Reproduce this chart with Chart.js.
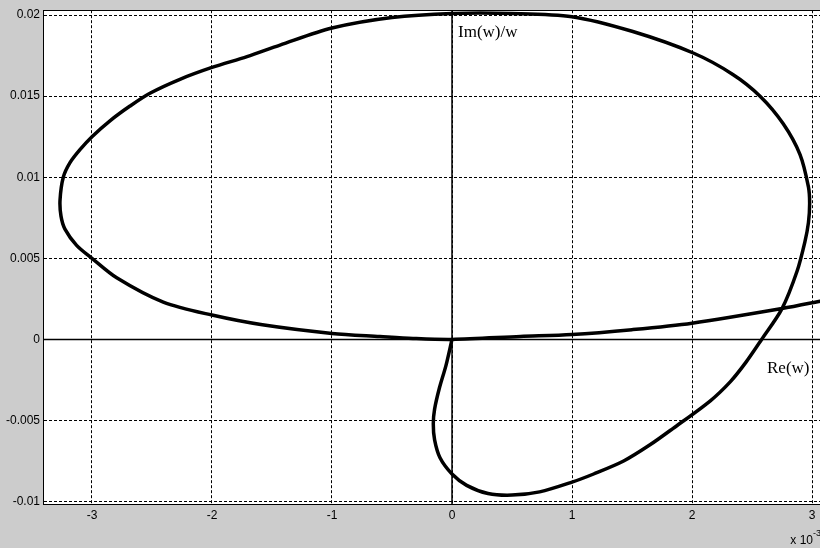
<!DOCTYPE html>
<html>
<head>
<meta charset="utf-8">
<script src="https://cdn.jsdelivr.net/npm/chart.js@4/dist/chart.umd.min.js"></script>
<style>
  html, body { margin: 0; padding: 0; background: #cccccc; overflow: hidden; }
  canvas { display: block; }
</style>
</head>
<body>
<canvas id="nyquist" width="828" height="548"></canvas>
<script>
// Curve points, x in units of 1e-3 (see "x 10^-3" under the axis)
const curveX = [
  0, -0.05, -0.105, -0.145, -0.156, -0.145, -0.1, 0, 0.122, 0.3, 0.5, 0.73,
  1.0, 1.18, 1.43, 1.65, 1.84, 2.15, 2.32, 2.45, 2.58, 2.75, 2.875, 2.94, 2.97, 2.98,
  2.97, 2.9, 2.76, 2.567, 2.34, 2.01, 1.5, 1.0, 0.5, 0, -0.5,
  -1.0, -1.433, -1.708, -2.0, -2.267, -2.517, -2.683, -2.85, -3.0, -3.1, -3.183, -3.239,
  -3.266, -3.258, -3.225, -3.128, -3.0, -2.794, -2.406, -2.0, -1.58, -1.0, -0.6, -0.325, 0,
  0.57, 1.0, 1.5, 2.0, 2.75, 3.1
];
const curveY = [
  0, -0.0016, -0.0030, -0.0043, -0.0052, -0.0062, -0.0073, -0.0083, -0.0090, -0.0095, -0.0096, -0.0094,
  -0.0088, -0.0083, -0.0075, -0.0065, -0.0055, -0.0038, -0.0026, -0.0014, 0, 0.0019, 0.0042, 0.0060, 0.0072, 0.0084,
  0.0094, 0.0114, 0.0133, 0.0150, 0.01634, 0.01766, 0.0190, 0.0199, 0.0201, 0.0201, 0.01985,
  0.0192, 0.01815, 0.01744, 0.01677, 0.01604, 0.01518, 0.01439, 0.01348, 0.0125, 0.0117, 0.0109, 0.0100,
  0.0086, 0.0076, 0.0068, 0.0058, 0.0050, 0.0038, 0.0023, 0.0015, 0.0009, 0.00037, 0.00018, 0.00006, 0,
  0.00018, 0.0003, 0.0006, 0.001, 0.0019, 0.0024
];

const xTicks = [-3, -2, -1, 0, 1, 2, 3];
const yTicks = [-0.01, -0.005, 0, 0.005, 0.01, 0.015, 0.02];
const yTickLabels = ['-0.01', '-0.005', '0', '0.005', '0.01', '0.015', '0.02'];

const xMin = -3.408, xMax = 3.108;
const yMin = -0.01015, yMax = 0.0203;

// text labels placed in data coordinates
const imLabel = { text: 'Im(w)/w', x: 0.05, y: 0.01866 };
const reLabel = { text: 'Re(w)', x: 2.625, y: -0.00207 };

const curve = curveX.map((x, i) => ({ x: x, y: curveY[i] }));

const plotFrame = {
  id: 'plotFrame',
  beforeDraw(chart) {
    const { ctx, chartArea: a } = chart;
    ctx.save();
    ctx.fillStyle = '#ffffff';
    ctx.fillRect(a.left, a.top, a.right - a.left, a.bottom - a.top);
    ctx.restore();
  },
  afterDraw(chart) {
    const { ctx, chartArea: a, scales } = chart;
    ctx.save();
    ctx.strokeStyle = '#000';
    ctx.lineWidth = 1;
    ctx.strokeRect(Math.round(a.left) + 0.5, Math.round(a.top) + 0.5,
      Math.round(a.right - a.left), Math.round(a.bottom - a.top));

    // Im / Re labels
    ctx.fillStyle = '#000';
    ctx.font = '17px "Liberation Serif", "Times New Roman", serif';
    ctx.textBaseline = 'alphabetic';
    ctx.textAlign = 'left';
    [imLabel, reLabel].forEach(l => {
      ctx.fillText(l.text, scales.x.getPixelForValue(l.x), scales.y.getPixelForValue(l.y));
    });

    // exponent note under the x axis
    ctx.font = '12px "Liberation Sans", Arial, sans-serif';
    ctx.textAlign = 'right';
    ctx.fillText('x 10', a.right - 12, 544);
    ctx.font = '9px "Liberation Sans", Arial, sans-serif';
    ctx.textAlign = 'left';
    ctx.fillText('-3', a.right - 12, 536);
    ctx.restore();
  }
};

const tickFont = { family: '"Liberation Sans", Arial, sans-serif', size: 12 };

new Chart(document.getElementById('nyquist'), {
  type: 'scatter',
  data: {
    datasets: [
      {
        data: [{ x: xMin, y: 0 }, { x: xMax, y: 0 }],
        showLine: true, borderColor: '#000', borderWidth: 1.5, pointRadius: 0, tension: 0
      },
      {
        data: [{ x: 0, y: yMin }, { x: 0, y: yMax }],
        showLine: true, borderColor: '#000', borderWidth: 1.5, pointRadius: 0, tension: 0
      },
      {
        data: curve,
        showLine: true, borderColor: '#000', borderWidth: 3.5, pointRadius: 0,
        tension: 0.3, borderJoinStyle: 'round', borderCapStyle: 'round'
      }
    ]
  },
  options: {
    responsive: false,
    animation: false,
    events: [],
    layout: { padding: { top: 5, right: 3, left: 0, bottom: 0 } },
    plugins: { legend: { display: false }, tooltip: { enabled: false } },
    scales: {
      x: {
        type: 'linear',
        min: xMin,
        max: xMax,
        afterBuildTicks: scale => { scale.ticks = xTicks.map(v => ({ value: v })); },
        afterFit: scale => { scale.height = 44; },
        ticks: { color: '#000', font: tickFont, padding: 4, maxRotation: 0,
                 callback: v => String(v) },
        grid: { color: '#000', lineWidth: 1, drawTicks: false },
        border: { display: true, color: '#000', width: 1, dash: [3, 2] }
      },
      y: {
        type: 'linear',
        min: yMin,
        max: yMax,
        afterBuildTicks: scale => { scale.ticks = yTicks.map(v => ({ value: v })); },
        afterFit: scale => { scale.width = 43; },
        ticks: { color: '#000', font: tickFont, padding: 3,
                 callback: v => yTickLabels[yTicks.indexOf(v)] },
        grid: { color: '#000', lineWidth: 1, drawTicks: false },
        border: { display: true, color: '#000', width: 1, dash: [3, 2] }
      }
    }
  },
  plugins: [plotFrame]
});
</script>
</body>
</html>
